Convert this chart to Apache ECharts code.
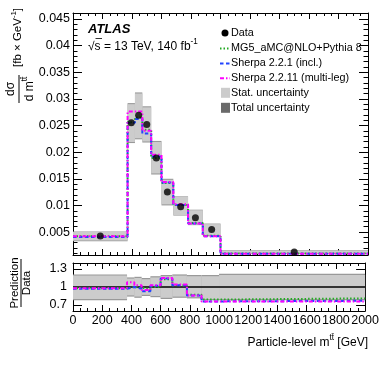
<!DOCTYPE html>
<html>
<head>
<meta charset="utf-8">
<script src="https://cdn.jsdelivr.net/npm/echarts@6/dist/echarts.min.js"></script>
<style>
  html, body { margin: 0; padding: 0; background: #fff; }
  #chart { width: 382px; height: 367px; }
</style>
</head>
<body>
<div id="chart"></div>
<script>
// bins of particle-level m(tt) in GeV
const binEdges = [0, 370, 420, 470, 530, 600, 680, 780, 880, 1000, 2000]

// measured cross-section (fb/GeV)
const dataValues = [0.00425, 0.0255, 0.0269, 0.0252, 0.0189, 0.0125, 0.00975, 0.0077, 0.0055, 0.00124]
// uncertainty bands, main panel
const statHi = [0.0050, 0.0290, 0.0310, 0.0284, 0.0219, 0.0148, 0.0116, 0.0091, 0.0065, 0.0015]
const statLo = [0.0034, 0.0219, 0.0226, 0.0220, 0.0160, 0.0102, 0.0082, 0.0064, 0.0044, 0.0010]
const totHi = [0.0051, 0.0292, 0.0312, 0.0286, 0.0221, 0.0150, 0.0117, 0.0092, 0.0066, 0.0016]
const totLo = [0.0033, 0.0217, 0.0224, 0.0218, 0.0158, 0.0100, 0.0081, 0.0063, 0.0043, 0.0009]

// predictions
const mg5 = [0.0042, 0.0256, 0.0265, 0.0242, 0.0189, 0.0142, 0.0101, 0.0067, 0.0043, 0.0010]
const sherpa221 = [0.0041, 0.0255, 0.0262, 0.0235, 0.0192, 0.0143, 0.0101, 0.0066, 0.0042, 0.00095]
const sherpa2211 = [0.0042, 0.0276, 0.0276, 0.0240, 0.0195, 0.0144, 0.0102, 0.0066, 0.0042, 0.00094]

// ratio panel
const mg5Ratio = [0.98, 1.0, 0.99, 0.96, 1.0, 1.13, 1.03, 0.87, 0.79, 0.81]
const sherpa221Ratio = [0.97, 1.0, 0.97, 0.93, 1.02, 1.14, 1.03, 0.86, 0.76, 0.77]
const sherpa2211Ratio = [0.98, 1.08, 1.03, 0.95, 1.03, 1.15, 1.04, 0.86, 0.76, 0.76]
const ratioStatHi = [1.19, 1.14, 1.15, 1.13, 1.16, 1.18, 1.19, 1.18, 1.18, 1.20]
const ratioStatLo = [0.80, 0.86, 0.84, 0.87, 0.85, 0.82, 0.84, 0.83, 0.80, 0.80]
const ratioTotHi = [1.21, 1.16, 1.17, 1.15, 1.18, 1.20, 1.21, 1.20, 1.20, 1.22]
const ratioTotLo = [0.78, 0.84, 0.82, 0.85, 0.83, 0.80, 0.82, 0.81, 0.78, 0.78]

// tick values
const xTicks = [0, 200, 400, 600, 800, 1000, 1200, 1400, 1600, 1800, 2000]
const yTicks = [0.005, 0.01, 0.015, 0.02, 0.025, 0.03, 0.035, 0.04, 0.045]
const yMinorTicks = [0.001, 0.002, 0.003, 0.004, 0.006, 0.007, 0.008, 0.009, 0.011, 0.012, 0.013, 0.014,
  0.016, 0.017, 0.018, 0.019, 0.021, 0.022, 0.023, 0.024, 0.026, 0.027, 0.028, 0.029,
  0.031, 0.032, 0.033, 0.034, 0.036, 0.037, 0.038, 0.039, 0.041, 0.042, 0.043, 0.044, 0.046]
const ratioTicks = [0.7, 1, 1.3]
const ratioMinorTicks = [0.6, 0.8, 0.9, 1.1, 1.2, 1.4]

const FONT = 'Liberation Sans'
const GREEN = '#22aa22'
const BLUE = '#2244ff'
const MAGENTA = '#ff00ff'

const chart = echarts.init(document.getElementById('chart'))

function stepData(values) {
  const pts = values.map((v, i) => [binEdges[i], v])
  pts.push([binEdges[binEdges.length - 1], values[values.length - 1]])
  return pts
}

function boxSeries(xi, yi, lo, hi, color, z) {
  return {
    type: 'custom', xAxisIndex: xi, yAxisIndex: yi, silent: true, z: z,
    data: lo.map((v, i) => [binEdges[i], binEdges[i + 1], v, hi[i]]),
    encode: { x: [0, 1], y: [2, 3] },
    renderItem: (params, api) => {
      const p1 = api.coord([api.value(0), api.value(3)])
      const p2 = api.coord([api.value(1), api.value(2)])
      const cs = params.coordSys
      const rect = echarts.graphic.clipRectByRect(
        { x: p1[0], y: p1[1], width: p2[0] - p1[0], height: p2[1] - p1[1] },
        { x: cs.x, y: cs.y, width: cs.width, height: cs.height })
      return rect && { type: 'rect', shape: rect, style: { fill: color } }
    }
  }
}

function histLine(values, color, dash, xi, yi, z) {
  return {
    type: 'line', xAxisIndex: xi, yAxisIndex: yi, data: stepData(values), step: 'end',
    symbol: 'none', silent: true, z: z,
    lineStyle: { color: color, width: 2, type: dash }
  }
}

const labelStyle = { fontFamily: FONT, fontSize: 12.5, color: '#000' }

function xAxisFor(grid, position, showLabels) {
  return {
    type: 'value', gridIndex: grid, position: position, min: 0, max: 2000, interval: 200,
    axisLine: { lineStyle: { color: '#000', width: 1 } },
    axisTick: { inside: true, length: 6, lineStyle: { color: '#000' } },
    minorTick: { show: true, splitNumber: 4, length: 3, lineStyle: { color: '#000' } },
    axisLabel: showLabels
      ? Object.assign({ margin: 3, customValues: xTicks, formatter: v => String(v), hideOverlap: false, showMinLabel: true, showMaxLabel: true }, labelStyle)
      : { show: false },
    splitLine: { show: false }
  }
}

function yAxesFor(grid, position, min, max, majors, minors, showLabels, margin) {
  const base = { type: 'value', gridIndex: grid, position: position, min: min, max: max, splitLine: { show: false } }
  return [
    Object.assign({}, base, {
      axisLine: { lineStyle: { color: '#000', width: 1 } },
      axisTick: { inside: true, length: 9, customValues: majors, lineStyle: { color: '#000' } },
      axisLabel: showLabels
        ? Object.assign({ margin: margin, customValues: majors, formatter: v => String(v) }, labelStyle)
        : { show: false }
    }),
    Object.assign({}, base, {
      axisLine: { show: false },
      axisTick: { inside: true, length: 4.5, customValues: minors, lineStyle: { color: '#000' } },
      axisLabel: { show: false }
    })
  ]
}

const txt = (x, y, text, size, extra) => ({
  type: 'text', x: x, y: y, silent: true,
  style: Object.assign({ text: text, fontFamily: FONT, fontSize: size, fill: '#000', verticalAlign: 'middle' }, extra || {})
})

const supRich = (size) => ({
  a: { fontFamily: FONT, fontSize: size, verticalAlign: 'bottom', lineHeight: size + 3 },
  s: { fontFamily: FONT, fontSize: size * 0.68, verticalAlign: 'top', lineHeight: size * 0.68 }
})

const legendX = 220
const legendTextX = 231
const legendRows = [33, 48.5, 63.5, 78.3, 92.8, 107.8]

const graphics = [
  // ATLAS label
  txt(88, 29.5, 'ATLAS', 13, { fontWeight: 'bold', fontStyle: 'italic' }),
  txt(88, 45, '{a|√s = 13 TeV, 140 fb}{s|-1}', 12, { rich: supRich(12) }),
  { type: 'line', silent: true, shape: { x1: 95.5, y1: 38.5, x2: 102, y2: 38.5 }, style: { stroke: '#000', lineWidth: 0.8 } },

  // legend
  { type: 'circle', silent: true, shape: { cx: legendX + 5, cy: legendRows[0], r: 3.5 }, style: { fill: '#000' } },
  txt(legendTextX, legendRows[0], 'Data', 10.8),
  { type: 'line', silent: true, shape: { x1: legendX, y1: legendRows[1], x2: legendX + 10, y2: legendRows[1] }, style: { stroke: GREEN, lineWidth: 2, lineDash: [1.5, 2] } },
  txt(legendTextX, legendRows[1], 'MG5_aMC@NLO+Pythia 8', 10.8),
  { type: 'line', silent: true, shape: { x1: legendX, y1: legendRows[2], x2: legendX + 10, y2: legendRows[2] }, style: { stroke: BLUE, lineWidth: 2, lineDash: [3.5, 2.5] } },
  txt(legendTextX, legendRows[2], 'Sherpa 2.2.1 (incl.)', 10.8),
  { type: 'line', silent: true, shape: { x1: legendX, y1: legendRows[3], x2: legendX + 10, y2: legendRows[3] }, style: { stroke: MAGENTA, lineWidth: 2, lineDash: [4, 2, 1.5, 2] } },
  txt(legendTextX, legendRows[3], 'Sherpa 2.2.11 (multi-leg)', 10.8),
  { type: 'rect', silent: true, shape: { x: legendX + 1, y: legendRows[4] - 5, width: 9, height: 10 }, style: { fill: '#cccccc' } },
  txt(legendTextX, legendRows[4], 'Stat. uncertainty', 10.8),
  { type: 'rect', silent: true, shape: { x: legendX + 1, y: legendRows[5] - 5, width: 9, height: 10 }, style: { fill: '#6a6a6a' } },
  txt(legendTextX, legendRows[5], 'Total uncertainty', 10.8),

  // main y title
  {
    type: 'group', x: 19, y: 89, rotation: Math.PI / 2, silent: true,
    children: [
      txt(0, -8, 'dσ', 12, { align: 'center' }),
      { type: 'line', shape: { x1: -14, y1: 0, x2: 14, y2: 0 }, style: { stroke: '#000', lineWidth: 1 } },
      txt(0, 9, '{a|d m}{s|tt̄}', 12, { align: 'center', rich: supRich(12) }),
      txt(22, -2, '{a|[fb × GeV}{s|-1}{a|]}', 11.5, { align: 'left', rich: supRich(11.5) })
    ]
  },
  // ratio y title
  {
    type: 'group', x: 21, y: 283, rotation: Math.PI / 2, silent: true,
    children: [
      txt(0, -6.5, 'Prediction', 11.5, { align: 'center' }),
      { type: 'line', shape: { x1: -24, y1: 0, x2: 24, y2: 0 }, style: { stroke: '#000', lineWidth: 1 } },
      txt(0, 6, 'Data', 11.5, { align: 'center' })
    ]
  },
  // x title
  txt(368, 341.5, '{a|Particle-level m}{s|tt̄}{a| [GeV]}', 12, { align: 'right', rich: supRich(12) })
]

const option = {
  animation: false,
  backgroundColor: '#fff',
  grid: [
    { left: 73, right: 14, top: 13, height: 242 },
    { left: 73, right: 14, top: 263, height: 48 }
  ],
  xAxis: [
    xAxisFor(0, 'bottom', false),
    xAxisFor(0, 'top', false),
    xAxisFor(1, 'bottom', true),
    xAxisFor(1, 'top', false)
  ],
  yAxis: [].concat(
    yAxesFor(0, 'left', 0.0007, 0.0461, yTicks, yMinorTicks, true, 3),
    yAxesFor(0, 'right', 0.0007, 0.0461, yTicks, yMinorTicks, false, 0),
    yAxesFor(1, 'left', 0.6, 1.4, ratioTicks, ratioMinorTicks, true, 6),
    yAxesFor(1, 'right', 0.6, 1.4, ratioTicks, ratioMinorTicks, false, 0)
  ),
  graphic: graphics,
  series: [
    boxSeries(0, 0, totLo, totHi, '#999999', 1),
    boxSeries(0, 0, statLo, statHi, '#cccccc', 2),
    histLine(mg5, GREEN, [1.5, 2], 0, 0, 3),
    histLine(sherpa221, BLUE, [3.5, 2.5], 0, 0, 4),
    histLine(sherpa2211, MAGENTA, [4, 2, 1.5, 2], 0, 0, 5),
    {
      type: 'scatter', xAxisIndex: 0, yAxisIndex: 0, silent: true, z: 6,
      symbol: 'circle', symbolSize: 7, itemStyle: { color: '#000' },
      data: dataValues.map((v, i) => [(binEdges[i] + binEdges[i + 1]) / 2, v])
    },

    boxSeries(2, 4, ratioTotLo, ratioTotHi, '#999999', 1),
    boxSeries(2, 4, ratioStatLo, ratioStatHi, '#cccccc', 2),
    {
      type: 'line', xAxisIndex: 2, yAxisIndex: 4, silent: true, z: 3, symbol: 'none',
      data: [[0, 1], [2000, 1]], lineStyle: { color: '#000', width: 1.5 }
    },
    histLine(mg5Ratio, GREEN, [1.5, 2], 2, 4, 4),
    histLine(sherpa221Ratio, BLUE, [3.5, 2.5], 2, 4, 5),
    histLine(sherpa2211Ratio, MAGENTA, [4, 2, 1.5, 2], 2, 4, 6)
  ]
}

chart.setOption(option)
</script>
</body>
</html>
